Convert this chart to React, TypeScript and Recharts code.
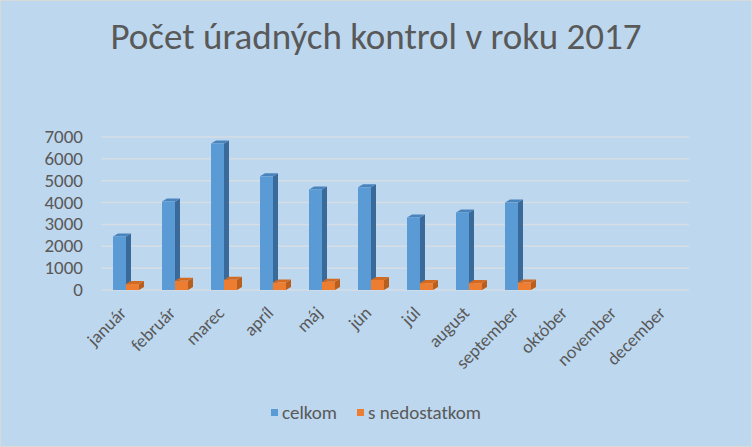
import React from "react";
import { Bar, BarChart, CartesianGrid, XAxis, YAxis } from "recharts";

const months = [
  "január",
  "február",
  "marec",
  "apríl",
  "máj",
  "jún",
  "júl",
  "august",
  "september",
  "október",
  "november",
  "december",
];
const celkom = [2450, 4050, 6700, 5200, 4600, 4700, 3320, 3550, 4000, null, null, null];
const sNedostatkom = [270, 420, 470, 345, 375, 460, 315, 315, 345, null, null, null];
const yTicks = [0, 1000, 2000, 3000, 4000, 5000, 6000, 7000];

const data = months.map((m, i) => ({
  month: m,
  celkom: celkom[i],
  sNedostatkom: sNedostatkom[i],
}));

const FONT = "Carlito, Lato, 'Open Sans', sans-serif";
const TEXT = "#595959";

// fake 3D column: front face + right side + top cap
function Column3D(props: any) {
  const { x, y, width, height, front, side, top } = props;
  if (!height || height <= 0) return null;
  const d = 5;
  const dy = 3;
  return (
    <g>
      <polygon
        points={`${x + width},${y} ${x + width + d},${y - dy} ${x + width + d},${y + height - dy} ${x + width},${y + height}`}
        fill={side}
      />
      <polygon
        points={`${x},${y} ${x + d},${y - dy} ${x + width + d},${y - dy} ${x + width},${y}`}
        fill={top}
      />
      <rect x={x} y={y} width={width} height={height} fill={front} />
    </g>
  );
}

function MonthTick({ x, y, payload }: any) {
  return (
    <text
      x={x + 2}
      y={y + 16}
      textAnchor="end"
      fill={TEXT}
      fontSize={18}
      fontFamily={FONT}
      transform={`rotate(-45, ${x + 2}, ${y + 16})`}
    >
      {payload.value}
    </text>
  );
}

function ValueTick({ y, payload }: any) {
  // labels right-aligned a fixed distance left of the plot area
  return (
    <text x={82} y={y + 6} textAnchor="end" fill={TEXT} fontSize={19} fontFamily={FONT}>
      {payload.value}
    </text>
  );
}

export default function App() {
  return (
    <div
      style={{
        position: "fixed",
        left: 0,
        top: 0,
        width: 752,
        height: 447,
        background: "#bdd7ee",
        boxSizing: "border-box",
        border: "1px solid #d9d9d9",
        fontFamily: FONT,
      }}
    >
      <div
        style={{
          position: "absolute",
          top: 13,
          left: 0,
          width: 750,
          textAlign: "center",
          fontSize: 37,
          color: TEXT,
        }}
      >
        Počet úradných kontrol v roku 2017
      </div>
      <BarChart
        width={750}
        height={445}
        data={data}
        margin={{ top: 136, right: 62, left: 0, bottom: 76 }}
        barGap={0}
        barSize={13}
      >
        <CartesianGrid vertical={false} stroke="#d6dde4" strokeWidth={1.5} />
        <XAxis
          dataKey="month"
          axisLine={false}
          tickLine={false}
          interval={0}
          height={80}
          tick={<MonthTick />}
        />
        <YAxis
          width={100}
          domain={[0, 7000]}
          ticks={yTicks}
          interval={0}
          axisLine={false}
          tickLine={false}
          tick={<ValueTick />}
        />
        <Bar
          dataKey="celkom"
          isAnimationActive={false}
          shape={(p: any) => <Column3D {...p} front="#5b9bd5" side="#3a6a99" top="#4a84bd" />}
        />
        <Bar
          dataKey="sNedostatkom"
          isAnimationActive={false}
          shape={(p: any) => <Column3D {...p} front="#ed7d31" side="#b85f1f" top="#d26a22" />}
        />
      </BarChart>
      <div
        style={{
          position: "absolute",
          top: 400,
          left: 0,
          width: 750,
          display: "flex",
          justifyContent: "center",
          alignItems: "center",
          fontSize: 19,
          color: TEXT,
        }}
      >
        <span style={{ display: "inline-block", width: 7, height: 7, background: "#5b9bd5", marginRight: 4 }} />
        <span style={{ marginRight: 20 }}>celkom</span>
        <span style={{ display: "inline-block", width: 7, height: 7, background: "#ed7d31", marginRight: 4 }} />
        <span>s nedostatkom</span>
      </div>
    </div>
  );
}
